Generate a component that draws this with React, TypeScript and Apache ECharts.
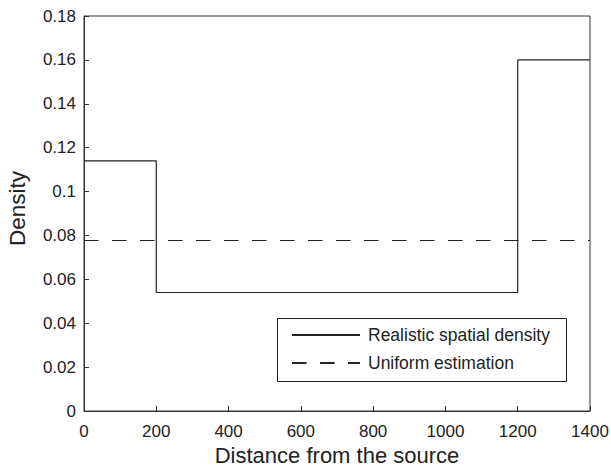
import React, { useEffect, useRef } from "react";
import * as echarts from "echarts";

const xBreaks = [0, 200, 1200, 1400];
const densities = [0.114, 0.054, 0.16];
const uniformDensity = 0.0777;
const xTicks = [0, 200, 400, 600, 800, 1000, 1200, 1400];
const yTicks = [0, 0.02, 0.04, 0.06, 0.08, 0.1, 0.12, 0.14, 0.16, 0.18];
const seriesNames = ["Realistic spatial density", "Uniform estimation"];

const FONT = "'Liberation Sans', Arial, Helvetica, sans-serif";

export default function App() {
  const ref = useRef<HTMLDivElement>(null);
  useEffect(() => {
    if (!ref.current) return;
    const chart = echarts.init(ref.current, undefined, { renderer: "svg" });
    const stepData: number[][] = [];
    densities.forEach((d, i) => {
      stepData.push([xBreaks[i], d]);
      stepData.push([xBreaks[i + 1], d]);
    });
    const uniformData = [
      [xBreaks[0], uniformDensity],
      [xBreaks[xBreaks.length - 1], uniformDensity],
    ];
    chart.setOption({
      animation: false,
      backgroundColor: "#ffffff",
      textStyle: { fontFamily: FONT },
      grid: {
        left: 84,
        top: 16,
        right: 21,
        bottom: 56,
        show: true,
        borderColor: "#333",
        borderWidth: 1,
        outerBoundsMode: "none",
        containLabel: false,
      },
      graphic: [
        {
          type: "rect",
          z: 3,
          shape: { x: 277.5, y: 318.5, width: 289, height: 63 },
          style: { fill: "#fff", stroke: "#222", lineWidth: 1 },
        },
      ],
      xAxis: {
        type: "value",
        min: 0,
        max: 1400,
        interval: 200,
        name: "Distance from the source",
        nameLocation: "middle",
        nameGap: 35,
        nameTextStyle: { fontSize: 22, lineHeight: 18, color: "#222", fontFamily: FONT },
        axisLine: { show: true, lineStyle: { color: "#333", width: 1 } },
        axisTick: { show: true, inside: true, length: 5, lineStyle: { color: "#333" } },
        axisLabel: {
          fontSize: 17,
          color: "#222",
          margin: 12,
          fontFamily: FONT,
          formatter: (v: number) => (xTicks.includes(v) ? String(v) : ""),
        },
        splitLine: { show: false },
      },
      yAxis: {
        type: "value",
        min: 0,
        max: 0.18,
        interval: 0.02,
        name: "Density",
        nameLocation: "middle",
        nameGap: 55,
        nameTextStyle: { fontSize: 22.5, color: "#222", fontFamily: FONT, padding: [0, 0, 0, 10] },
        axisLine: { show: true, lineStyle: { color: "#333", width: 1 } },
        axisTick: { show: true, inside: true, length: 5, lineStyle: { color: "#333" } },
        axisLabel: {
          fontSize: 17,
          color: "#222",
          margin: 8,
          fontFamily: FONT,
          formatter: (v: number) => {
            const t = yTicks.find((y) => Math.abs(y - v) < 1e-9);
            return t === undefined ? "" : String(parseFloat(t.toFixed(2)));
          },
        },
        splitLine: { show: false },
      },
      legend: {
        orient: "vertical",
        left: 291,
        top: 326,
        padding: 0,
        itemGap: 10,
        itemWidth: 68,
        itemHeight: 8,
        borderWidth: 0,
        z: 5,
        itemStyle: { opacity: 0 },
        textStyle: { fontSize: 17.5, color: "#222", fontFamily: FONT, padding: [0, 0, 0, 3] },
        data: seriesNames,
      },
      series: [
        {
          name: seriesNames[0],
          type: "line",
          data: stepData,
          symbol: "none",
          lineStyle: { color: "#222", width: 1.2, type: "solid" },
          itemStyle: { color: "#222" },
        },
        {
          name: seriesNames[1],
          type: "line",
          data: uniformData,
          symbol: "none",
          lineStyle: { color: "#222", width: 1.2, type: [14.5, 13.5] },
          itemStyle: { color: "#222" },
        },
      ],
    });
    return () => chart.dispose();
  }, []);
  return <div ref={ref} style={{ width: 611, height: 467, position: "absolute", left: 0, top: 0 }} />;
}
